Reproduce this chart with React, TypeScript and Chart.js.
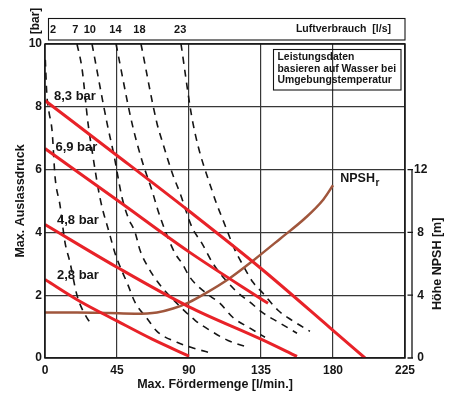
import React, { useEffect, useRef } from 'react';
import { Chart, registerables } from 'chart.js';

Chart.register(...registerables);

const FONT = '"Liberation Sans", Arial, Helvetica, sans-serif';

// ---- axes ----
const xTickStep = 45;
const xMax = 225;
const yMax = 10;
const yTickStep = 2;
const npshMax = 20;
const npshAxisTop = 12;
const npshTickStep = 4;

// ---- air consumption header ----
const airLabels = ['2', '7', '10', '14', '18', '23'];
const airLabelX = [5, 19, 28, 44, 59, 84.5];

// ---- pressure curves (bar vs l/min) ----
const pressure83: [number, number][] = [[0, 8.2], [45, 6.45], [90, 4.68], [135, 2.85], [178, 0.97], [200, 0]];
const pressure69: [number, number][] = [[0, 6.67], [45, 5.03], [90, 3.38], [139.4, 1.74]];
const pressure48: [number, number][] = [[0, 4.25], [45, 2.89], [90, 1.63], [135, 0.6], [157.5, 0.05]];
const pressure28: [number, number][] = [[0, 2.5], [22, 1.8], [45, 1.18], [67, 0.6], [90, 0.06]];
const pressureLabels = ['8,3 bar', '6,9 bar', '4,8 bar', '2,8 bar'];
const pressureLabelPos: [number, number][] = [[5.6, 8.33], [6.5, 6.72], [7.5, 4.38], [7.5, 2.62]];

// ---- NPSHr (m, right axis) ----
const npsh: [number, number][] = [
  [0, 2.9], [20, 2.9], [40, 2.86], [56, 2.82], [70, 2.9], [80, 3.15], [90, 3.55],
  [100, 4.1], [115, 5.05], [130, 6.2], [147, 7.6], [162.5, 8.9], [174, 10.1], [180, 11.0],
];

// ---- air consumption curves (l/s) ----
const air2: [number, number][] = [
  [0.2, 9.5], [1.1, 8.43], [2.5, 7.83], [4.4, 7.25], [6.3, 5.76], [9.4, 4.86], [12.5, 3.68],
  [15.6, 3.05], [20, 2.0], [26.3, 1.27], [30, 1.04],
];
const air7: [number, number][] = [
  [20, 10], [23.1, 9.23], [26.9, 7.47], [29.4, 6.61], [34.4, 5.09], [40.6, 3.91], [43.8, 3.33],
  [51.9, 2.32], [56.3, 1.77], [63.8, 1.26], [70, 0.85], [82.5, 0.5], [92.5, 0.32], [104.4, 0.15],
];
const air10: [number, number][] = [
  [29.4, 10], [38.8, 7.47], [43.1, 6.46], [48.1, 5.12], [51.9, 4.48], [56.3, 4.0], [59.4, 3.43],
  [63.8, 2.95], [70.6, 2.41], [79.4, 1.9], [93.8, 1.2], [103.1, 0.88], [114.4, 0.56], [126.9, 0.34],
];
const air14: [number, number][] = [
  [44.4, 10], [54.4, 7.47], [60.6, 6.29], [66.9, 5.33], [70.6, 4.7], [75, 4.07], [81.3, 3.33],
  [85.6, 3.02], [90.6, 2.57], [100, 2.09], [109.4, 1.74], [117.5, 1.29], [128.1, 0.95], [137.5, 0.66],
];
const air18: [number, number][] = [
  [60, 10], [70, 7.47], [73.1, 6.93], [80, 5.82], [84.4, 5.25], [91.9, 4.16], [98.1, 3.65],
  [105, 3.01], [118.8, 2.16], [128.1, 1.78], [135.6, 1.46], [146.9, 1.11], [157.5, 0.79],
];
const air23: [number, number][] = [
  [85, 10], [92.5, 7.47], [105, 5.24], [112.5, 4.23], [118.8, 3.43], [123.8, 2.95], [130, 2.41],
  [136.3, 2.06], [145.6, 1.52], [154.4, 1.2], [165.6, 0.85],
];

const infoLines = ['Leistungsdaten', 'basieren auf Wasser bei', 'Umgebungstemperatur'];

const RED = 'rgb(232,34,40)';
const BROWN = 'rgb(160,86,60)';
const INK = '#151515';
const GRID = 'rgba(55,55,55,1)';

const toXY = (arr: [number, number][]) => arr.map(([x, y]) => ({ x, y }));

const decor = {
  id: 'decor',
  afterDraw(chart: any) {
    const { ctx, chartArea } = chart;
    const { left, right, top, bottom } = chartArea;
    const xs = chart.scales.x;
    const ys = chart.scales.y;
    const y2 = chart.scales.y2;
    ctx.save();
    // frame
    ctx.strokeStyle = INK;
    ctx.lineWidth = 1.5;
    ctx.strokeRect(left, top, right - left, bottom - top);

    // right NPSH axis line + ticks
    const ax = right + 7;
    ctx.lineWidth = 1.3;
    ctx.beginPath();
    ctx.moveTo(ax, y2.getPixelForValue(0));
    ctx.lineTo(ax, y2.getPixelForValue(npshAxisTop));
    for (let v = 0; v <= npshAxisTop; v += npshTickStep) {
      const py = y2.getPixelForValue(v);
      ctx.moveTo(ax - 4.5, py);
      ctx.lineTo(ax + 1, py);
    }
    ctx.stroke();

    // air consumption strip
    ctx.lineWidth = 1.1;
    ctx.strokeRect(left + 3.5, top - 25.5, right - left - 3.5, 21.5);
    ctx.fillStyle = INK;
    ctx.font = `bold 11px ${FONT}`;
    ctx.textBaseline = 'middle';
    ctx.textAlign = 'center';
    airLabels.forEach((t, i) => ctx.fillText(t, xs.getPixelForValue(airLabelX[i]), top - 14.5));
    ctx.textAlign = 'right';
    ctx.font = `bold 10.5px ${FONT}`;
    ctx.fillText('Luftverbrauch  [l/s]', right - 14, top - 14.5);

    // info box
    const bx = right - 131.5;
    const by = top + 5.5;
    ctx.strokeRect(bx, by, 127.5, 40.5);
    ctx.textAlign = 'left';
    ctx.font = `bold 10.4px ${FONT}`;
    infoLines.forEach((t, i) => ctx.fillText(t, bx + 4, by + 7.5 + i * 11.7));

    // [bar]
    ctx.font = `bold 12px ${FONT}`;
    ctx.save();
    ctx.translate(left - 9, top - 23);
    ctx.rotate(-Math.PI / 2);
    ctx.textAlign = 'center';
    ctx.fillText('[bar]', 0, 0);
    ctx.restore();

    // axis titles
    ctx.font = `bold 12.5px ${FONT}`;
    ctx.save();
    ctx.translate(21, (top + bottom) / 2);
    ctx.rotate(-Math.PI / 2);
    ctx.textAlign = 'center';
    ctx.fillText('Max. Auslassdruck', 0, 0);
    ctx.restore();

    ctx.textAlign = 'center';
    ctx.fillText('Max. Fördermenge [l/min.]', (left + right) / 2 - 10, bottom + 27);

    ctx.save();
    ctx.translate(ax + 26, y2.getPixelForValue(npshAxisTop / 2));
    ctx.rotate(-Math.PI / 2);
    ctx.textAlign = 'center';
    ctx.fillText('Höhe NPSH [m]', 0, 0);
    ctx.restore();

    // pressure labels
    ctx.font = `bold 13px ${FONT}`;
    ctx.textAlign = 'left';
    pressureLabels.forEach((t, i) => {
      const [vx, vy] = pressureLabelPos[i];
      ctx.fillText(t, xs.getPixelForValue(vx), ys.getPixelForValue(vy));
    });

    // NPSHr label
    const nx = xs.getPixelForValue(184.5);
    const ny = ys.getPixelForValue(5.72);
    ctx.font = `bold 12.5px ${FONT}`;
    ctx.fillText('NPSH', nx, ny);
    const w = ctx.measureText('NPSH').width;
    ctx.font = `bold 10px ${FONT}`;
    ctx.fillText('r', nx + w + 0.5, ny + 4.5);
    ctx.restore();
  },
};

export default function App() {
  const ref = useRef<HTMLCanvasElement | null>(null);

  useEffect(() => {
    document.body.style.margin = '0';
    const canvas = ref.current;
    if (!canvas) return;

    const redSet = (data: [number, number][]) => ({
      data: toXY(data),
      borderColor: RED,
      borderWidth: 3,
      pointRadius: 0,
      fill: false,
      cubicInterpolationMode: 'monotone' as const,
      yAxisID: 'y',
    });
    const dashSet = (data: [number, number][]) => ({
      data: toXY(data),
      borderColor: INK,
      borderWidth: 1.6,
      borderDash: [7, 6],
      pointRadius: 0,
      fill: false,
      cubicInterpolationMode: 'monotone' as const,
      yAxisID: 'y',
    });

    const chart = new Chart(canvas, {
      type: 'line',
      data: {
        datasets: [
          redSet(pressure83),
          redSet(pressure69),
          redSet(pressure48),
          redSet(pressure28),
          {
            data: toXY(npsh),
            borderColor: BROWN,
            borderWidth: 2.5,
            pointRadius: 0,
            fill: false,
            cubicInterpolationMode: 'monotone',
            yAxisID: 'y2',
          } as any,
          dashSet(air2),
          dashSet(air7),
          dashSet(air10),
          dashSet(air14),
          dashSet(air18),
          dashSet(air23),
        ],
      },
      options: {
        responsive: false,
        animation: false,
        parsing: false as any,
        layout: { padding: { top: 44, left: 0, right: 0, bottom: 0 } },
        plugins: { legend: { display: false }, tooltip: { enabled: false } },
        scales: {
          x: {
            type: 'linear',
            min: 0,
            max: xMax,
            ticks: {
              stepSize: xTickStep,
              color: INK,
              font: { family: FONT, size: 12, weight: 'bold' },
              padding: 5,
              maxRotation: 0,
            },
            grid: { color: GRID, lineWidth: 1.2, drawTicks: false },
            border: { display: false },
            afterFit: (s: any) => { s.height = 36; },
          },
          y: {
            type: 'linear',
            position: 'left',
            min: 0,
            max: yMax,
            ticks: {
              stepSize: yTickStep,
              color: INK,
              font: { family: FONT, size: 12, weight: 'bold' },
              padding: 3,
            },
            grid: { color: GRID, lineWidth: 1.2, drawTicks: false },
            border: { display: false },
            afterFit: (s: any) => { s.width = 45; },
          },
          y2: {
            type: 'linear',
            position: 'right',
            min: 0,
            max: npshMax,
            ticks: {
              stepSize: npshTickStep,
              color: INK,
              font: { family: FONT, size: 12, weight: 'bold' },
              padding: 9,
              crossAlign: 'center',
              callback: (v: any) => (Number(v) <= npshAxisTop ? String(v) : ''),
            },
            grid: { display: false, drawTicks: false },
            border: { display: false },
            afterFit: (s: any) => { s.width = 49; },
          },
        },
      } as any,
      plugins: [decor],
    });

    return () => chart.destroy();
  }, []);

  return (
    <div style={{ width: 454, height: 394, background: '#fff' }}>
      <canvas ref={ref} width={454} height={394} style={{ width: 454, height: 394, display: 'block' }} />
    </div>
  );
}
